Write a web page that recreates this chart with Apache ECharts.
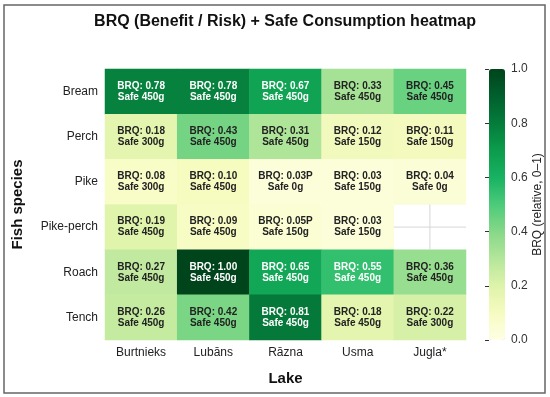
<!DOCTYPE html>
<html>
<head>
<meta charset="utf-8">
<script src="https://cdn.jsdelivr.net/npm/echarts@6/dist/echarts.min.js"></script>
<style>html,body{margin:0;padding:0;background:#fff}#c{width:550px;height:397px}</style>
</head>
<body>
<div id="c"></div>
<script>
const lakes = ['Burtnieks', 'Lubāns', 'Rāzna', 'Usma', 'Jugla*'];
const species = ['Bream', 'Perch', 'Pike', 'Pike-perch', 'Roach', 'Tench'];
// BRQ (relative) per species (rows) x lake (columns); null = no data
const brq = [
  [0.78, 0.78, 0.67, 0.33, 0.45],
  [0.18, 0.43, 0.31, 0.12, 0.11],
  [0.08, 0.10, 0.03, 0.03, 0.04],
  [0.19, 0.09, 0.05, 0.03, null],
  [0.27, 1.00, 0.65, 0.55, 0.36],
  [0.26, 0.42, 0.81, 0.18, 0.22]
];
// suffix shown after BRQ value
const brqSuffix = [
  ['', '', '', '', ''],
  ['', '', '', '', ''],
  ['', '', 'P', '', ''],
  ['', '', 'P', '', ''],
  ['', '', '', '', ''],
  ['', '', '', '', '']
];
// safe consumption (g)
const safe = [
  [450, 450, 450, 450, 450],
  [300, 450, 450, 150, 150],
  [300, 450, 0, 150, 0],
  [450, 450, 150, 150, null],
  [450, 450, 450, 450, 450],
  [450, 450, 450, 450, 300]
];

const cells = [];
const missing = [];
species.forEach((s, i) => {
  lakes.forEach((l, j) => {
    if (brq[i][j] === null) { missing.push([j, i]); return; }
    cells.push({
      value: [j, i, brq[i][j]],
      label: {color: brq[i][j] > 0.5 ? '#ffffff' : '#222222'},
      txt: 'BRQ: ' + brq[i][j].toFixed(2) + brqSuffix[i][j] + '\nSafe ' + safe[i][j] + 'g'
    });
  });
});

const FONT = '"Liberation Sans", Arial, sans-serif';
const chart = echarts.init(document.getElementById('c'), null, {renderer: 'canvas'});
chart.setOption({
  backgroundColor: '#ffffff',
  animation: false,
  textStyle: {fontFamily: FONT},
  title: {
    text: 'BRQ (Benefit / Risk) + Safe Consumption heatmap',
    left: 280, top: 9, textAlign: 'center',
    textStyle: {fontSize: 16, fontWeight: 'bold', color: '#111', fontFamily: FONT}
  },
  graphic: [{
    type: 'rect', shape: {x: 4, y: 5, width: 541, height: 388},
    style: {fill: 'none', stroke: '#666', lineWidth: 1.5}, silent: true, z: 100
  }],
  grid: [
    {left: 105, top: 69, width: 361, height: 271},
    {left: 489, top: 69, width: 16, height: 271, z: 10}
  ],
  xAxis: [{
    type: 'category', data: lakes, gridIndex: 0,
    axisLine: {show: false}, axisTick: {show: false}, splitLine: {show: false},
    axisLabel: {fontSize: 12, color: '#222', margin: 7, fontFamily: FONT},
    name: 'Lake', nameLocation: 'middle', nameGap: 31,
    nameTextStyle: {fontSize: 15, fontWeight: 'bold', color: '#111', fontFamily: FONT}
  }, {
    type: 'value', gridIndex: 1, show: false, min: 0, max: 1
  }],
  yAxis: [{
    type: 'category', data: species, gridIndex: 0, inverse: true,
    axisLine: {show: false}, axisTick: {show: false}, splitLine: {show: false},
    axisLabel: {fontSize: 12, color: '#222', margin: 7, fontFamily: FONT},
    name: 'Fish species', nameLocation: 'middle', nameGap: 80,
    nameTextStyle: {fontSize: 15, fontWeight: 'bold', color: '#111', fontFamily: FONT}
  }, {
    type: 'value', gridIndex: 1, position: 'right', min: 0, max: 1, interval: 0.2, z: 10,
    axisLine: {show: false},
    axisTick: {show: true, length: 4, inside: true, lineStyle: {color: '#333', width: 1}},
    splitLine: {show: false},
    axisLabel: {fontSize: 12, color: '#333', margin: 6, fontFamily: FONT,
      formatter: v => v.toFixed(1)},
    name: 'BRQ (relative, 0–1)', nameLocation: 'middle', nameGap: 16, nameRotate: 90,
    nameTextStyle: {fontSize: 12, color: '#222', fontFamily: FONT}
  }],
  visualMap: {
    type: 'continuous', min: 0, max: 1, seriesIndex: 0,
    calculable: false, show: true, orient: 'vertical',
    left: 489, top: 69, itemWidth: 16, itemHeight: 271, padding: 0,
    text: null, showLabel: false, z: 1,
    inRange: {color: ['#ffffe5', '#f6fbc0', '#def3aa', '#b4e69b', '#86d888', '#4ccb7a',
      '#17b262', '#0c9c4c', '#047c3a', '#015f2e', '#00441b']}
  },
  series: [{
    type: 'heatmap', xAxisIndex: 0, yAxisIndex: 0,
    data: cells,
    label: {
      show: true, fontSize: 10, fontWeight: 'bold', lineHeight: 11, fontFamily: FONT,
      formatter: p => p.data.txt
    },
    itemStyle: {borderWidth: 0}
  }, {
    type: 'custom', xAxisIndex: 0, yAxisIndex: 0, data: missing, silent: true,
    renderItem: (params, api) => {
      const c = api.coord([api.value(0), api.value(1)]);
      const sz = api.size([1, 1]);
      return {type: 'group', children: [
        {type: 'line', shape: {x1: c[0], y1: c[1] - sz[1] / 2, x2: c[0], y2: c[1] + sz[1] / 2},
          style: {stroke: '#d6d6d6', lineWidth: 1}},
        {type: 'line', shape: {x1: c[0] - sz[0] / 2, y1: c[1], x2: c[0] + sz[0] / 2, y2: c[1]},
          style: {stroke: '#d6d6d6', lineWidth: 1}}
      ]};
    }
  }, {
    type: 'scatter', xAxisIndex: 1, yAxisIndex: 1, data: []
  }]
});
</script>
</body>
</html>
